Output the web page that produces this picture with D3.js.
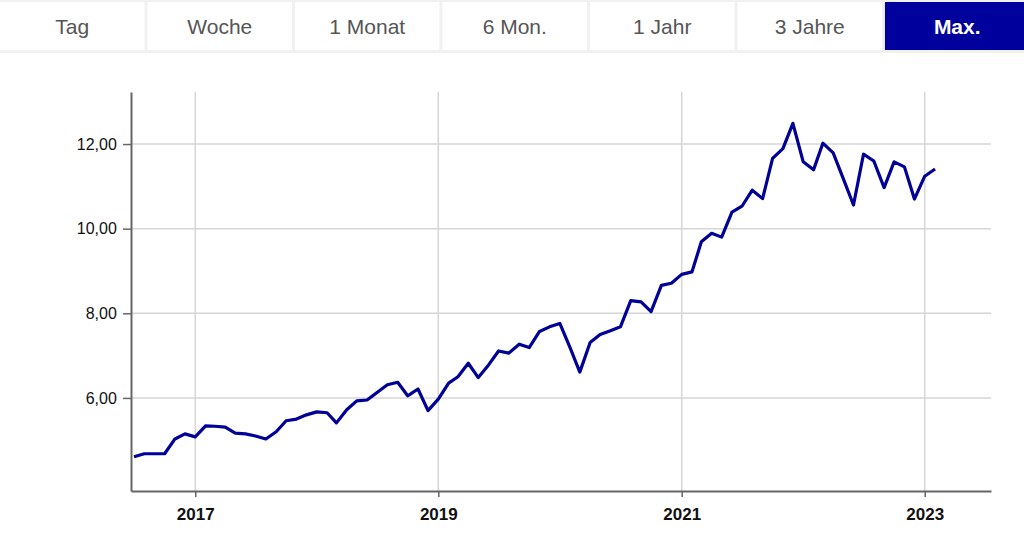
<!DOCTYPE html>
<html>
<head>
<meta charset="utf-8">
<script src="https://cdn.jsdelivr.net/npm/d3@7"></script>
<style>
  html, body { margin: 0; padding: 0; background: #fff; }
  svg { display: block; font-family: "Liberation Sans", Arial, sans-serif; }
</style>
</head>
<body>
<div id="chart"></div>
<script>
// tab labels of the range selector
const tabs = ["Tag", "Woche", "1 Monat", "6 Mon.", "1 Jahr", "3 Jahre", "Max."];
const activeTab = "Max.";

// monthly closing values, Jul 2016 .. Feb 2023
const months = d3.timeMonths(new Date(2016, 6, 1), new Date(2023, 2, 1));
const values = [
  4.61, 4.68, 4.68, 4.68, 5.03, 5.15,
  5.08, 5.34, 5.33, 5.31, 5.17, 5.15, 5.10, 5.03, 5.20, 5.46, 5.50, 5.60,
  5.67, 5.65, 5.41, 5.72, 5.93, 5.95, 6.13, 6.31, 6.37, 6.05, 6.21, 5.70,
  5.97, 6.35, 6.50, 6.82, 6.48, 6.78, 7.11, 7.06, 7.27, 7.19, 7.57, 7.68,
  7.76, 7.18, 6.61, 7.31, 7.50, 7.59, 7.68, 8.30, 8.27, 8.04, 8.66, 8.71,
  8.92, 8.98, 9.69, 9.89, 9.80, 10.39, 10.53, 10.91, 10.71, 11.66, 11.89, 12.49,
  11.58, 11.39, 12.02, 11.79, 11.19, 10.56, 11.76, 11.60, 10.97, 11.58, 11.46, 10.70,
  11.24, 11.41
];
const yTicks = [6, 8, 10, 12];
const xTickYears = [2017, 2019, 2021, 2023];

const data = months.map((d, i) => ({ date: d, value: values[i] }));

const W = 1024, H = 554;
const svg = d3.select("#chart").append("svg")
  .attr("width", W).attr("height", H);

// --- range selector tabs
svg.append("rect").attr("x", 0).attr("y", 0).attr("width", W).attr("height", 53)
  .attr("fill", "#f1f1f1");

const tabX = d3.scaleBand().domain(tabs).range([0, 1029.5]).paddingInner(0.02);

const tab = svg.append("g").selectAll("g").data(tabs).enter().append("g")
  .attr("transform", d => `translate(${tabX(d)},2)`);
tab.append("rect")
  .attr("width", tabX.bandwidth()).attr("height", 48)
  .attr("fill", d => d === activeTab ? "#00009c" : "#fff");
tab.append("text")
  .attr("x", tabX.bandwidth() / 2).attr("y", 31.5)
  .attr("text-anchor", "middle")
  .attr("font-size", 21)
  .attr("font-weight", d => d === activeTab ? "bold" : "normal")
  .attr("fill", d => d === activeTab ? "#fff" : "#555")
  .text(d => d);

// --- chart
const margin = { top: 92, right: 33, bottom: 63, left: 131 };
const width = W - margin.left - margin.right,
  height = H - margin.top - margin.bottom;

const g = svg.append("g").attr("transform", `translate(${margin.left},${margin.top})`);

const x = d3.scaleTime()
  .domain([new Date(2016, 5, 22), new Date(2023, 6, 19)])
  .range([0, width]);
const y = d3.scaleLinear().domain([3.8, 13.23]).range([height, 0]);

const fmt = v => d3.format(".2f")(v).replace(".", ",");

// grid
g.append("g").selectAll("line").data(yTicks).enter().append("line")
  .attr("x1", 0).attr("x2", width)
  .attr("y1", d => y(d)).attr("y2", d => y(d))
  .attr("stroke", "#d6d6d6").attr("stroke-width", 1.5);
g.append("g").selectAll("line").data(xTickYears).enter().append("line")
  .attr("x1", d => x(new Date(d, 0, 1))).attr("x2", d => x(new Date(d, 0, 1)))
  .attr("y1", 0).attr("y2", height)
  .attr("stroke", "#d6d6d6").attr("stroke-width", 1.5);

// axes
const yAxis = g.append("g")
  .call(d3.axisLeft(y).tickValues(yTicks).tickFormat(fmt).tickSize(8).tickSizeOuter(0));
const xAxis = g.append("g").attr("transform", `translate(0,${height})`)
  .call(d3.axisBottom(x).tickValues(xTickYears.map(d => new Date(d, 0, 1)))
    .tickFormat(d3.timeFormat("%Y")).tickSize(6).tickSizeOuter(0));

[yAxis, xAxis].forEach(a => {
  a.select(".domain").attr("stroke", "#666").attr("stroke-width", 2);
  a.selectAll(".tick line").attr("stroke", "#666").attr("stroke-width", 1.5);
  a.selectAll("text").attr("font-family", "Liberation Sans, Arial, sans-serif")
    .attr("fill", "#111");
});
yAxis.selectAll("text").attr("font-size", 16).attr("dx", "-0.2em");
xAxis.selectAll("text").attr("font-size", 17).attr("font-weight", "bold").attr("dy", "1.2em");

// line
const line = d3.line().x(d => x(d.date)).y(d => y(d.value));
g.append("path").datum(data)
  .attr("fill", "none")
  .attr("stroke", "#000096")
  .attr("stroke-width", 3.2)
  .attr("stroke-linejoin", "round")
  .attr("d", line);
</script>
</body>
</html>
